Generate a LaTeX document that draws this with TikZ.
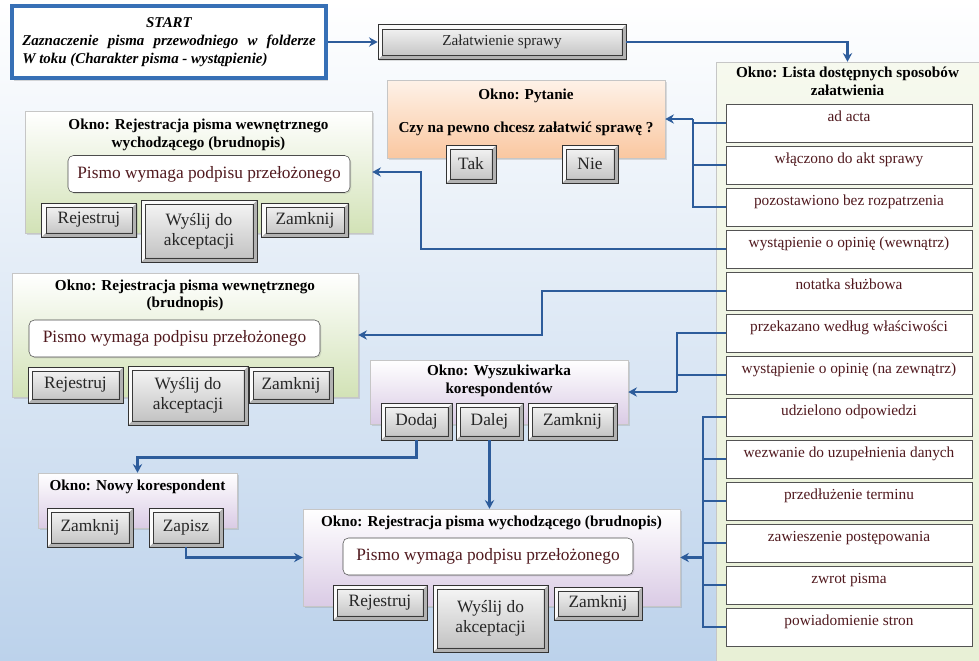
\documentclass[tikz,border=0pt]{standalone}
\usepackage{fontspec}
\setmainfont{Liberation Serif}
\usetikzlibrary{arrows.meta, positioning, shadows, calc}

\definecolor{conblue}{RGB}{45,92,155}
\definecolor{startblue}{RGB}{55,112,182}
\definecolor{itemtext}{RGB}{80,25,30}
\definecolor{bgblue}{RGB}{188,210,235}
\definecolor{okngreen}{RGB}{210,226,182}
\definecolor{oknorange}{RGB}{250,199,160}
\definecolor{oknpeach}{RGB}{254,242,232}
\definecolor{oknpurple}{RGB}{218,203,229}
\definecolor{listgreen}{RGB}{232,240,214}
\definecolor{listlight}{RGB}{246,249,238}

\tikzset{
  sz/.style 2 args={minimum width=#1*0.75pt, minimum height=#2*0.75pt},
  okno/.style={draw=gray!45, inner sep=0pt, top color=white,
    drop shadow={opacity=0.25, shadow xshift=1.5pt, shadow yshift=-1.5pt}},
  oknotitle/.style={font=\fontsize{11.4}{13.2}\selectfont\bfseries, align=center, inner sep=1pt},
  btn/.style={draw=gray!40!black, line width=0.5pt, top color=gray!6, bottom color=gray!50,
    inner sep=0pt, font=\fontsize{13}{15}\selectfont, text=black!85, align=center,
    drop shadow={opacity=0.25, shadow xshift=1pt, shadow yshift=-1pt},
    path picture={
      \coordinate (bsw) at (path picture bounding box.south west);
      \coordinate (bne) at (path picture bounding box.north east);
      \fill[gray!60] (bsw) -- ($(bsw)+(3.2pt,3.2pt)$) -| ($(bne)+(-3.2pt,-3.2pt)$) -- (bne) |- (bsw) -- cycle;
      \fill[gray!4] (bsw) -- ($(bsw)+(3.2pt,3.2pt)$) |- ($(bne)+(-3.2pt,-3.2pt)$) -- (bne) -| (bsw) -- cycle;
      \draw[gray!45!black, line width=0.3pt] ($(bsw)+(3.2pt,3.2pt)$) rectangle ($(bne)+(-3.2pt,-3.2pt)$);
    }},
  infobox/.style={draw=gray!60!black, rounded corners=4pt, fill=white,
    font=\fontsize{13}{15}\selectfont, text=itemtext,
    drop shadow={opacity=0.2, shadow xshift=1pt, shadow yshift=-1pt}},
  item/.style={draw=gray!65!black, fill=white, sz={246}{38},
    font=\fontsize{11.5}{13}\selectfont, text=itemtext, text height=7.5pt, text depth=9.5pt,
    drop shadow={opacity=0.25, shadow xshift=1pt, shadow yshift=-1pt}},
  conn/.style={conblue, line width=2.2pt},
}

\begin{document}
\begin{tikzpicture}[x=0.75pt, y=-0.75pt, >={Stealth[length=6.5pt, width=7pt]}]
  % --- tlo ---
  \useasboundingbox (0,0) rectangle (979,661);
  \fill[top color=white, bottom color=bgblue] (0,0) rectangle (979,661);

  % --- START ---
  \node[draw=startblue, line width=3.2pt, fill=white, sz={314}{72}, align=left,
    font=\fontsize{11.2}{13.5}\selectfont\bfseries\itshape,
    drop shadow={opacity=0.3, shadow xshift=1.5pt, shadow yshift=-2pt}] (start) at (169,42)
    {\makebox[220pt]{START}\\ \makebox[220pt][s]{Zaznaczenie pisma przewodniego w folderze}\\ W toku (Charakter pisma - wystąpienie)};
  \node[btn, sz={248}{35}, font=\fontsize{11.4}{13}\selectfont] (zal) at (502,42) {Załatwienie sprawy};

  % --- Okno: Lista ---
  \node[okno, top color=listlight, bottom color=listgreen, sz={263}{599}] (lista) at (847.5,361.5) {};
  \node[oknotitle, below=3pt of lista.north] (listaT) {Okno: Lista dostępnych sposobów\\załatwienia};
  \foreach \txt [count=\k] in {ad acta, włączono do akt sprawy, pozostawiono bez rozpatrzenia,
      wystąpienie o opinię (wewnątrz), notatka służbowa, przekazano według właściwości,
      wystąpienie o opinię (na zewnątrz), udzielono odpowiedzi, wezwanie do uzupełnienia danych,
      przedłużenie terminu, zawieszenie postępowania, zwrot pisma, powiadomienie stron}
    \node[item] (i\k) at (849, 81+42*\k) {\txt};

  % --- Okno: Pytanie ---
  \node[okno, top color=oknpeach, bottom color=oknorange, sz={278}{78}] (pyt) at (526,119) {};
  \node[oknotitle, below=6pt of pyt.north] (pytT) {Okno: Pytanie};
  \node[oknotitle] (pytQ) at (526,129) {Czy na pewno chcesz załatwić sprawę ?};
  \node[btn, sz={50}{38}] (pytYes) at (471,164) {Tak};
  \node[btn, sz={56}{38}] (pytNo) at (590,164) {Nie};

  % --- Okno: Rejestracja (wewn. wychodzacego) ---
  \node[okno, bottom color=okngreen, sz={347}{122}] (rejA) at (198.5,172) {};
  \node[oknotitle, below=5pt of rejA.north] (rejAT) {Okno: Rejestracja pisma wewnętrznego\\wychodzącego (brudnopis)};
  \node[infobox, sz={282}{37}] (rejAinfo) at (209,174) {Pismo wymaga podpisu przełożonego};
  \node[btn, sz={95}{34}] (rejAreg) at (89,220) {Rejestruj};
  \node[btn, sz={116}{62}] (rejAsend) at (199,231) {Wyślij do\\akceptacji};
  \node[btn, sz={87}{34}] (rejAclose) at (305,220) {Zamknij};

  % --- Okno: Rejestracja (wewnetrznego) ---
  \node[okno, bottom color=okngreen, sz={346}{124}] (rejB) at (185,335) {};
  \node[oknotitle, below=4pt of rejB.north] (rejBT) {Okno: Rejestracja pisma wewnętrznego\\(brudnopis)};
  \node[infobox, sz={291}{37}] (rejBinfo) at (174.5,338.5) {Pismo wymaga podpisu przełożonego};
  \node[btn, sz={95}{36}] (rejBreg) at (75.5,385) {Rejestruj};
  \node[btn, sz={120}{59}] (rejBsend) at (188,395.5) {Wyślij do\\akceptacji};
  \node[btn, sz={84}{36}] (rejBclose) at (291,385) {Zamknij};

  % --- Okno: Wyszukiwarka ---
  \node[okno, bottom color=oknpurple, sz={258}{64}] (wys) at (499,392) {};
  \node[oknotitle, below=3pt of wys.north] (wysT) {Okno: Wyszukiwarka\\korespondentów};
  \node[btn, sz={71}{37}] (wysAdd) at (416.5,421.5) {Dodaj};
  \node[btn, sz={67}{37}] (wysNext) at (489.5,421.5) {Dalej};
  \node[btn, sz={89}{37}] (wysClose) at (572.5,421.5) {Zamknij};

  % --- Okno: Nowy korespondent ---
  \node[okno, bottom color=oknpurple, sz={199}{55}] (nowy) at (137.5,500.5) {};
  \node[oknotitle, below=4pt of nowy.north] (nowyT) {Okno: Nowy korespondent};
  \node[btn, sz={86}{39}] (nowyClose) at (90,527.5) {Zamknij};
  \node[btn, sz={74}{39}] (nowySave) at (186,527.5) {Zapisz};

  % --- Okno: Rejestracja (wychodzacego) ---
  \node[okno, bottom color=oknpurple, sz={377}{97}] (rejC) at (491.5,557.5) {};
  \node[oknotitle, below=4pt of rejC.north] (rejCT) {Okno: Rejestracja pisma wychodzącego (brudnopis)};
  \node[infobox, sz={290}{37}] (rejCinfo) at (488,556.5) {Pismo wymaga podpisu przełożonego};
  \node[btn, sz={94}{35}] (rejCreg) at (380,602.5) {Rejestruj};
  \node[btn, sz={115}{67}] (rejCsend) at (490.5,618.5) {Wyślij do\\akceptacji};
  \node[btn, sz={88}{33}] (rejCclose) at (598,603.5) {Zamknij};

  % --- polaczenia ---
  \draw[conn,->] (start) -- (zal);
  \draw[conn,->] (zal.east) -| (lista.north);

  \coordinate (busP) at (693,0);
  \draw[conn] (i3.west) -| (busP |- pyt.east);
  \draw[conn] (i1.west) -- (i1.west -| busP);
  \draw[conn] (i2.west) -- (i2.west -| busP);
  \draw[conn,->] (busP |- pyt.east) -- (pyt.east);

  \coordinate (bendA) at (421,0);
  \draw[conn,->] (i4.west) -- (i4.west -| bendA) |- (rejA.east);
  \coordinate (bendB) at (542,0);
  \draw[conn,->] (i5.west) -- (i5.west -| bendB) |- (rejB.east);

  \coordinate (busW) at (677,0);
  \draw[conn] (i6.west) -| (busW |- wys.east);
  \draw[conn] (i7.west) -- (i7.west -| busW);
  \draw[conn,->] (busW |- wys.east) -- (wys.east);

  \draw[conn,->] (wysAdd.south) -- ++(0,17) -| (nowy.north);
  \draw[conn,->] (wysNext.south) -- (wysNext.south |- rejC.north);
  \draw[conn,->] (nowySave.south) |- (rejC.west);

  \coordinate (busR) at (703,0);
  \draw[conn] (i8.west) -| (busR |- i13.west) -- (i13.west);
  \foreach \k in {9,...,12}
    \draw[conn] (i\k.west) -- (i\k.west -| busR);
  \draw[conn,->] (busR |- rejC.east) -- (rejC.east);
\end{tikzpicture}
\end{document}
